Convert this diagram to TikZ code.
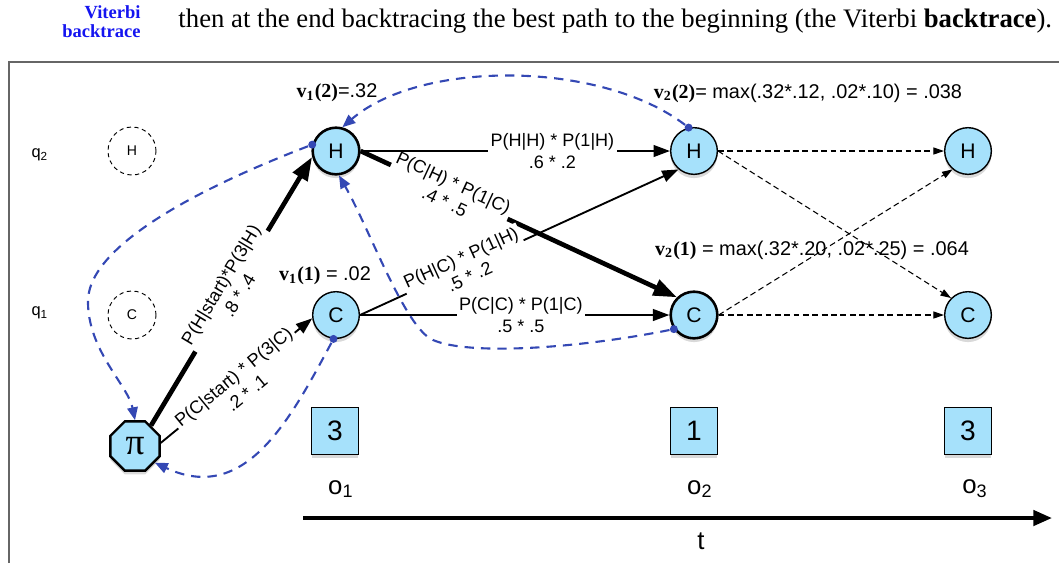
\documentclass[tikz,border=0pt]{standalone}
\usepackage{fontspec}
\setmainfont{Liberation Serif}
\setsansfont{Liberation Sans}
\usetikzlibrary{arrows.meta,shapes.geometric,shadows}
\definecolor{cellblue}{RGB}{166,225,251}
\definecolor{tracecol}{RGB}{52,72,180}
\definecolor{notecol}{RGB}{20,20,240}
\newcommand{\vit}[2]{{\rmfamily\bfseries v\textsubscript{#1}(#2)}}
\tikzset{
    softshadow/.style={drop shadow={opacity=.3, shadow xshift=0pt, shadow yshift=-1.6pt}},
    state/.style={circle, draw, fill=cellblue, line width=0.6pt, minimum size=0.7cm, inner sep=0pt,
        font=\sffamily\fontsize{9}{10}\selectfont, softshadow},
    best/.style={line width=1.1pt},
    ghost/.style={circle, draw, dash pattern=on 1.8pt off 1.5pt, line width=0.4pt, minimum size=0.72cm,
        inner sep=0pt, font=\sffamily\fontsize{6}{7}\selectfont},
    startbox/.style={regular polygon, regular polygon sides=8, draw, fill=cellblue, line width=1pt,
        minimum size=0.8cm, inner sep=0pt, font=\rmfamily\fontsize{16}{16}\selectfont, softshadow},
    obsbox/.style={rectangle, draw, fill=cellblue, line width=0.6pt, minimum size=0.7cm, inner sep=0pt,
        font=\sffamily\fontsize{12}{13}\selectfont, softshadow},
    lab/.style={fill=white, align=center, inner sep=1pt, font=\sffamily\fontsize{7.7}{9}\selectfont},
    vlab/.style={font=\sffamily\fontsize{8.5}{10}\selectfont},
    trans/.style={-{Triangle[length=7pt,width=5pt]}, line width=0.8pt},
    besttrans/.style={-{Triangle[length=10pt,width=7pt]}, line width=2pt},
    nexttrans/.style={-{Triangle[length=4.5pt,width=3pt]}, dash pattern=on 2.5pt off 1.5pt, line width=0.45pt},
    backtrace/.style={-{Triangle[length=5.5pt,width=4.5pt]}, draw=tracecol, line width=0.9pt,
        dash pattern=on 4pt off 3pt},
    tracedot/.style={circle, fill=tracecol, inner sep=0pt, minimum size=0.12cm},
}

\begin{document}
\begin{tikzpicture}[x=0.015cm, y=-0.015cm]
    \useasboundingbox (0,0) rectangle (1059,563);
    % Texto de la pagina
    \node[anchor=north east, align=right, text=notecol, inner sep=0pt,
        font=\rmfamily\bfseries\fontsize{7.9}{8.1}\selectfont] (note) at (141,5) {Viterbi\\backtrace};
    \node[anchor=base west, inner sep=0pt, font=\rmfamily\fontsize{11.4}{13}\selectfont] (body) at (178,27)
        {then at the end backtracing the best path to the beginning (the Viterbi \textbf{backtrace}).};
    % Marco
    \draw[gray!80!black, line width=0.5pt] (9,563) -- (9,62) -- (1059,62);
    % Estados
    \node[font=\sffamily\fontsize{7}{8}\selectfont] (q2) at (40,155) {q\textsubscript{2}};
    \node[font=\sffamily\fontsize{7}{8}\selectfont] (q1) at (40,313) {q\textsubscript{1}};
    \node[ghost] (h0) at (132,151) {H};
    \node[ghost] (c0) at (132,315) {C};
    \node[startbox] (pi) at (135,446) {π};
    \node[state, best] (h1) at (336,151) {H};
    \node[state] (c1) at (336,315) {C};
    \node[state] (h2) at (694,151) {H};
    \node[state, best] (c2) at (694,315) {C};
    \node[state] (h3) at (968,151) {H};
    \node[state] (c3) at (968,315) {C};
    % Observaciones
    \node[obsbox] (b1) at (335,431) {3};
    \node[obsbox] (b2) at (694,431) {1};
    \node[obsbox] (b3) at (968,431) {3};
    \node[font=\sffamily\fontsize{11}{12}\selectfont] (o1) at (341,489) {o\textsubscript{1}};
    \node[font=\sffamily\fontsize{11}{12}\selectfont] (o2) at (700,489) {o\textsubscript{2}};
    \node[font=\sffamily\fontsize{11}{12}\selectfont] (o3) at (975,489) {o\textsubscript{3}};
    % Eje del tiempo
    \coordinate (t0) at (303,518);
    \coordinate (t1) at (1052,518);
    \draw[line width=1.7pt, -{Triangle[length=8pt,width=6.5pt]}] (t0) -- (t1);
    \node[font=\sffamily\fontsize{11}{12}\selectfont] (tlab) at (701,541) {t};
    % Valores de Viterbi
    \node[vlab] (v12) at (337,93) {\vit{1}{2}=.32};
    \node[vlab] (v22) at (808,93) {\vit{2}{2}= max(.32*.12, .02*.10) = .038};
    \node[vlab] (v11) at (325,276) {\vit{1}{1} = .02};
    \node[vlab] (v21) at (812,250) {\vit{2}{1} = max(.32*.20, .02*.25) = .064};
    % Transiciones
    \draw[besttrans] (pi.52) -- (h1.194) node[lab, midway, sloped, yshift=1pt] {P(H|start)*P(3|H)\\.8 * .4};
    \draw[trans] (pi.7) -- (c1.188) node[lab, midway, sloped, yshift=-2.3pt] {P(C|start) * P(3|C)\\.2 * .1};
    \draw[besttrans] (h1.east) -- (c2.134) node[lab, pos=.28, sloped] {P(C|H) * P(1|C)\\.4 * .5};
    \draw[trans] (c1.east) -- (h2.230) node[lab, pos=.33, sloped] {P(H|C) * P(1|H)\\.5 * .2};
    \draw[trans] (h1) -- (h2) node[lab, pos=.62] {P(H|H) * P(1|H)\\.6 * .2};
    \draw[trans] (c1) -- (c2) node[lab, pos=.52] {P(C|C) * P(1|C)\\.5 * .5};
    \draw[nexttrans] (h2) -- (h3);
    \draw[nexttrans] (h2.east) -- (c3.135);
    \draw[nexttrans] (c2.east) -- (h3.230);
    \draw[nexttrans] (c2) -- (c3);
    % Backtrace
    \node[tracedot] (d1) at (h2.103) {};
    \node[tracedot] (d2) at (c2.215) {};
    \node[tracedot] (d3) at (h1.165) {};
    \node[tracedot] (d4) at (c1.264) {};
    \draw[backtrace] (d1) .. controls (600,60) and (420,60) .. (h1.75);
    \draw[backtrace] (d2) .. controls (580,348) and (470,356) .. (433,340)
        .. controls (405,328) and (370,230) .. (h1.277);
    \draw[backtrace] (d3) .. controls (220,180) and (90,240) .. (88,300)
        .. controls (87,350) and (128,385) .. (pi.north);
    \draw[backtrace] (d4) .. controls (290,420) and (245,505) .. (pi.-40);
\end{tikzpicture}
\end{document}
